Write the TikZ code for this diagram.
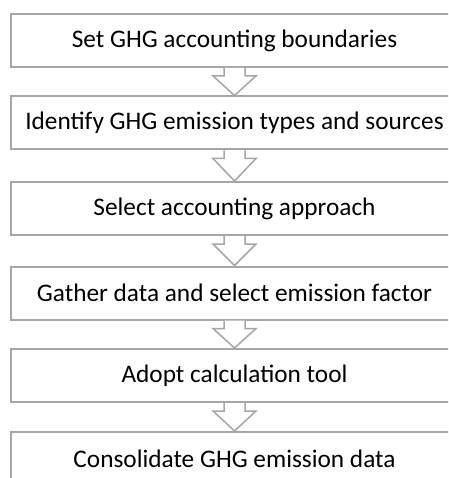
\documentclass[tikz,border=0pt]{standalone}
\usepackage{fontspec}
\setmainfont{Carlito}
\usetikzlibrary{calc}
\definecolor{edgegray}{RGB}{166,166,166}
\tikzset{
  stepbox/.style={draw=edgegray, line width=2pt, fill=white, minimum width=447pt, minimum height=53pt, inner sep=0pt, font=\fontsize{25.3}{29}\selectfont, text=black},
  blockarrow/.style={draw=edgegray, line width=1.5pt, fill=white, line join=miter}
}
\newcommand{\flowarrow}[2]{%
  \filldraw[blockarrow] ($(#1.south)+(-10.5,0)$) -- ($(#1.south)+(-10.5,8)$) -- ($(#1.south)+(-21.5,8)$) -- (#2.north) -- ($(#1.south)+(21.5,8)$) -- ($(#1.south)+(10.5,8)$) -- ($(#1.south)+(10.5,0)$);%
}
\begin{document}
\begin{tikzpicture}[x=1pt,y=-1pt]
\useasboundingbox (0,0) rectangle (448,478);
\clip (0,0) rectangle (448,478);
\node[stepbox] (b1) at (234.5,40.5) {Set GHG accounting boundaries};
\node[stepbox] (b2) at (234.5,123) {Identify GHG emission types and sources};
\node[stepbox] (b3) at (234.5,208.5) {Select accounting approach};
\node[stepbox] (b4) at (234.5,293) {Gather data and select emission factor};
\node[stepbox] (b5) at (234.5,375.5) {Adopt calculation tool};
\node[stepbox] (b6) at (234.5,458.5) {Consolidate GHG emission data};
\flowarrow{b1}{b2}
\flowarrow{b2}{b3}
\flowarrow{b3}{b4}
\flowarrow{b4}{b5}
\flowarrow{b5}{b6}
\end{tikzpicture}
\end{document}
